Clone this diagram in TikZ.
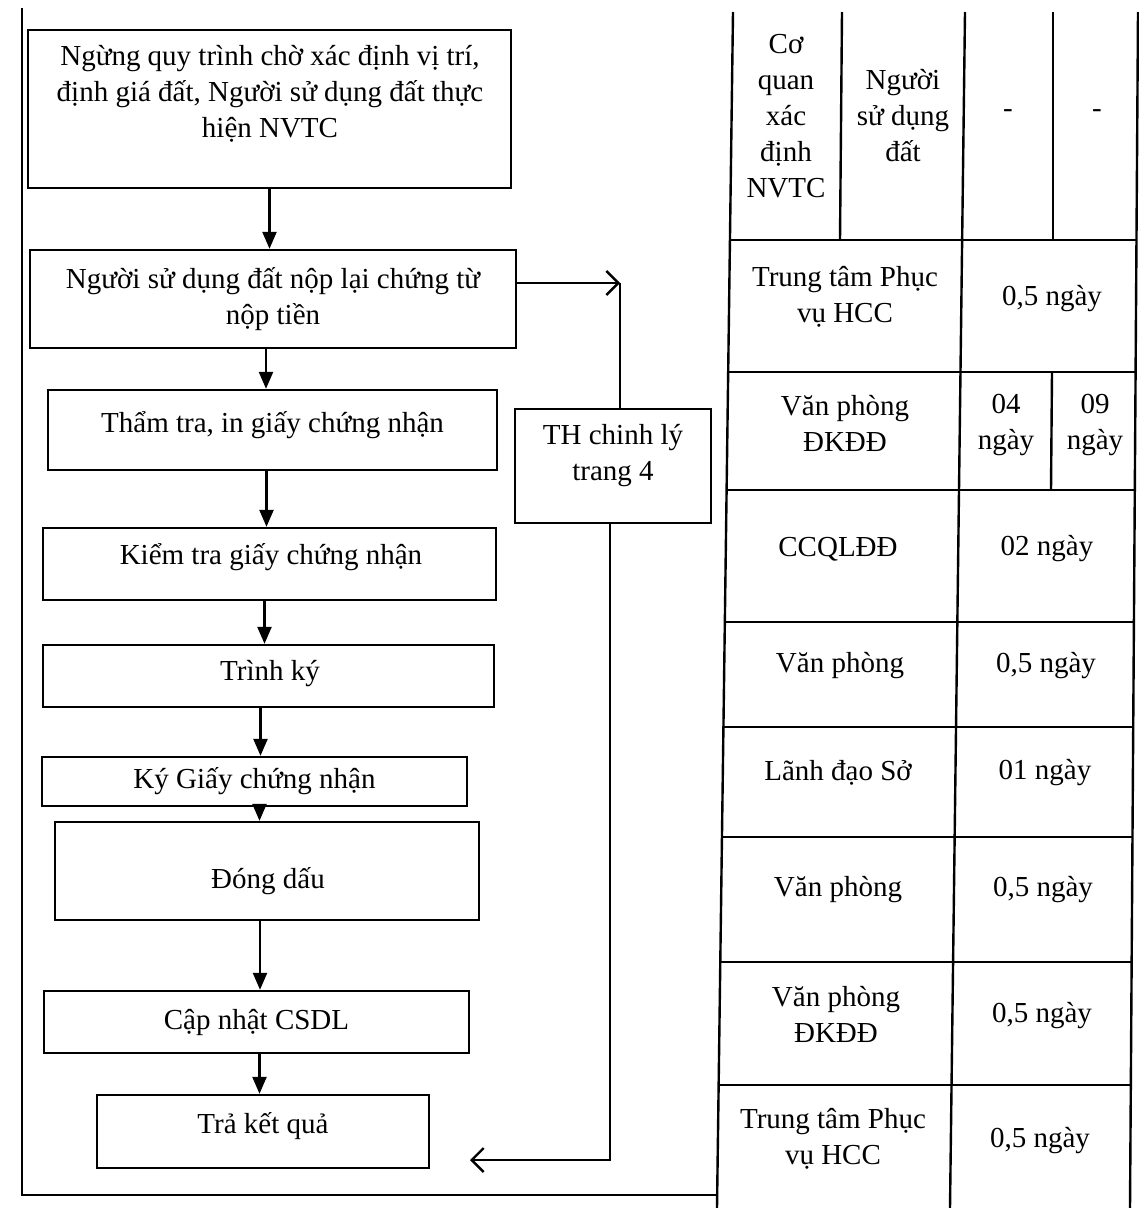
\documentclass[tikz,border=0pt]{standalone}
\usepackage{fontspec}
\setmainfont{Liberation Serif}
\usetikzlibrary{arrows.meta}
\begin{document}
\begin{tikzpicture}[x=1pt,y=-1pt,
  box/.style={draw, line width=2.4pt, inner sep=0pt, align=center, font=\fontsize{29}{36}\selectfont},
  txt/.style={inner sep=0pt, align=center, font=\fontsize{29}{36}\selectfont},
  arr/.style={line width=2.4pt, -{Triangle[length=17pt,width=14pt]}},
  oarr/.style={line width=2.4pt, -{Straight Barb[length=12pt,width=24pt,line width=2.4pt]}},
  ln/.style={line width=2.4pt}]
\useasboundingbox (0,0) rectangle (1139,1208);

% ---------- left frame ----------
\draw[ln] (22,8) -- (22,1195) -- (718,1195);

% ---------- flow boxes ----------
\node[box, minimum width=483pt, minimum height=158pt] (A) at (269.5,109) {};
\node[txt] (At) at (270,94) {Ngừng quy trình chờ xác định vị trí,\\định giá đất, Người sử dụng đất thực\\hiện NVTC};
\node[box, minimum width=486pt, minimum height=98pt] (B) at (273,299)
  {Người sử dụng đất nộp lại chứng từ\\nộp tiền};
\node[box, minimum width=449pt, minimum height=80pt] (C) at (272.5,430) {};
\node[txt] (Ct) at (272.5,425) {Thẩm tra, in giấy chứng nhận};
\node[box, minimum width=453pt, minimum height=72pt] (D) at (269.5,564) {};
\node[txt] (Dt) at (271,557) {Kiểm tra giấy chứng nhận};
\node[box, minimum width=451pt, minimum height=62pt] (E) at (268.5,676) {};
\node[txt] (Et) at (270,674) {Trình ký};
\node[box, minimum width=425pt, minimum height=49pt] (F) at (254.5,781.5) {Ký Giấy chứng nhận};
\node[box, minimum width=424pt, minimum height=98pt] (G) at (267,871) {};
\node[txt] (Gt) at (268,881) {Đóng dấu};
\node[box, minimum width=425pt, minimum height=62pt] (H) at (256.5,1022) {Cập nhật CSDL};
\node[box, minimum width=332pt, minimum height=73pt] (I) at (263,1131.5) {};
\node[txt] (It) at (263,1126) {Trả kết quả};
\node[box, minimum width=196pt, minimum height=114pt] (TH) at (613,466) {};
\node[txt] (THt) at (613,456) {TH chinh lý\\trang 4};

% ---------- arrows ----------
\draw[arr] (A.south) -- (A.south |- B.north);
\draw[arr] ([xshift=-7pt]B.south) -- ([xshift=-7pt]B.south |- C.north);
\draw[arr] ([xshift=-6pt]C.south) -- ([xshift=-6pt]C.south |- D.north);
\draw[arr] ([xshift=-5pt]D.south) -- ([xshift=-5pt]D.south |- E.north);
\draw[arr] ([xshift=-8pt]E.south) -- ([xshift=-8pt]E.south |- F.north);
\draw[arr] ([xshift=5pt]F.south) -- ([xshift=5pt]F.south |- G.north);
\draw[arr] ([xshift=-7pt]G.south) -- ([xshift=-7pt]G.south |- H.north);
\draw[arr] ([xshift=3pt]H.south) -- ([xshift=3pt]H.south |- I.north);

\coordinate (turn) at (620,283);
\draw[oarr] ([yshift=16pt]B.east) -- (turn);
\draw[ln] (turn) -- (turn |- TH.north);
\coordinate (corner) at (610,1160);
\coordinate (ret) at (470,1160);
\draw[oarr] ([xshift=-3pt]TH.south) -- (corner) -- (ret);

% ---------- table lines ----------
\draw[ln] (733,12) -- (717,1208);
\draw[ln] (1138,12) -- (1130,1208);
\draw[ln] (842,12) -- (840,240);
\draw[ln] (965,12) -- (950,1208);
\draw[ln] (1053,12) -- (1053,240);
\draw[ln] (1052,372) -- (1051,490);
\draw[ln] (730,240) -- (1136.4,240);
\draw[ln] (728.2,372) -- (1135.5,372);
\draw[ln] (726.6,490) -- (1134.8,490);
\draw[ln] (724.8,622) -- (1134,622);
\draw[ln] (723.4,727) -- (1133.2,727);
\draw[ln] (722,837) -- (1132.5,837);
\draw[ln] (720.3,962) -- (1131.6,962);
\draw[ln] (718.6,1085) -- (1130.8,1085);

% ---------- table texts ----------
\node[txt] (c11) at (786,116) {Cơ\\quan\\xác\\định\\NVTC};
\node[txt] (c12) at (903,116) {Người\\sử dụng\\đất};
\node[txt] (c13) at (1008,114) {-};
\node[txt] (c14) at (1097,114) {-};
\node[txt] (c21) at (845,297) {Trung tâm Phục\\vụ HCC};
\node[txt] (c22) at (1052,299) {0,5 ngày};
\node[txt] (c31) at (845,423) {Văn phòng\\ĐKĐĐ};
\node[txt] (c32) at (1006,425) {04\\ngày};
\node[txt] (c33) at (1095,425) {09\\ngày};
\node[txt] (c41) at (838,549) {CCQLĐĐ};
\node[txt] (c42) at (1047,549) {02 ngày};
\node[txt] (c51) at (840,666) {Văn phòng};
\node[txt] (c52) at (1046,666) {0,5 ngày};
\node[txt] (c61) at (838,773) {Lãnh đạo Sở};
\node[txt] (c62) at (1045,773) {01 ngày};
\node[txt] (c71) at (838,890) {Văn phòng};
\node[txt] (c72) at (1043,890) {0,5 ngày};
\node[txt] (c81) at (836,1014) {Văn phòng\\ĐKĐĐ};
\node[txt] (c82) at (1042,1016) {0,5 ngày};
\node[txt] (c91) at (833,1139) {Trung tâm Phục\\vụ HCC};
\node[txt] (c92) at (1040,1141) {0,5 ngày};
\end{tikzpicture}
\end{document}
